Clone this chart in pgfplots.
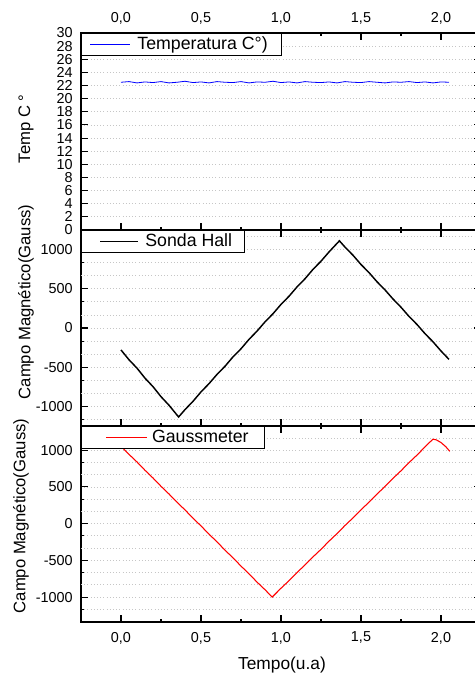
\documentclass[border=0pt]{standalone}
\usepackage{fontspec}
\setmainfont{Liberation Sans}
\usepackage{pgfplots}
\pgfplotsset{compat=1.18}

% 1px of the reference = 0.75pt
\pgfplotsset{
  panel/.style={
    scale only axis, width=300pt, anchor=north west,
    xmin=-0.25, xmax=2.25,
    xtick={0,0.5,1,1.5,2}, minor x tick num=1,
    tick align=inside, major tick length=5pt, minor tick length=2.5pt,
    axis line style={line width=1pt},
    every tick/.style={black, line width=0.8pt},
    ticklabel style={font=\fontsize{10.8}{12}\selectfont},
    /pgf/number format/assume math mode=true,
    /pgf/number format/1000 sep={},
    xticklabel style={/pgf/number format/use comma, /pgf/number format/fixed,
      /pgf/number format/fixed zerofill, /pgf/number format/precision=1,
      /pgf/number format/1000 sep={}},
    yticklabel style={xshift=-2.7pt},
    label style={font=\fontsize{12.5}{14}\selectfont},
    grid style={gray!45, dotted, line width=0.6pt},
    legend style={at={(0,1)}, anchor=north west, draw=black, line width=0.6pt,
      fill=white, font=\fontsize{13.3}{15}\selectfont,
      inner xsep=0pt, inner ysep=2.8pt, nodes={inner sep=0pt}},
    legend cell align=left,
  },
  gauss/.style={
    ytick={-1000,-500,0,500,1000},
    minor ytick={-1166.67,-666.67,-166.67,333.33,833.33},
    extra y ticks={-833.33,-333.33,166.67,666.67,1166.67},
    extra y tick labels={},
    extra y tick style={major tick length=0pt, grid=major},
    ymajorgrids, yminorgrids,
  }
}

\begin{document}
\begin{tikzpicture}
\path[use as bounding box] (0,0) rectangle (356.25pt,-507pt);
\clip (0,0) rectangle (356.25pt,-507pt);

% top panel: temperature
\begin{axis}[panel, at={(60.75pt,-24.75pt)}, height=147.75pt,
  ymin=0, ymax=30, ytick={0,2,...,30}, ymajorgrids,
  xticklabel pos=upper,
  xticklabel style={yshift=3pt},
  ylabel={Temp C °},
  ylabel style={at={(axis description cs:-0.1375,0.513)}, anchor=center},
  legend image code/.code={\path[draw=none] (0pt,0pt) -- (42pt,0pt); \draw[#1] (6.75pt,0pt) -- (36.75pt,0pt);},
]
\addplot[blue, line width=0.6pt] coordinates {
(0.00,22.5) (0.05,22.6) (0.10,22.4) (0.15,22.55) (0.20,22.45) (0.25,22.6)
(0.30,22.4) (0.35,22.5) (0.40,22.65) (0.45,22.45) (0.50,22.55) (0.55,22.4)
(0.60,22.6) (0.65,22.5) (0.70,22.45) (0.75,22.6) (0.80,22.4) (0.85,22.55)
(0.90,22.5) (0.95,22.65) (1.00,22.45) (1.05,22.55) (1.10,22.4) (1.15,22.6)
(1.20,22.5) (1.25,22.45) (1.30,22.55) (1.35,22.4) (1.40,22.6) (1.45,22.5)
(1.50,22.45) (1.55,22.6) (1.60,22.5) (1.65,22.4) (1.70,22.55) (1.75,22.5)
(1.80,22.6) (1.85,22.45) (1.90,22.55) (1.95,22.4) (2.00,22.55) (2.05,22.5)
};
\addlegendentry{Temperatura C°)\kern10pt}
\end{axis}

% middle panel: Hall probe
\begin{axis}[panel, gauss, at={(60.75pt,-172.5pt)}, height=147pt,
  ymin=-1250, ymax=1250,
  xticklabels={},
  ylabel={Campo Magnético(Gauss)},
  ylabel style={at={(axis description cs:-0.1375,0.633)}, anchor=center},
  legend image code/.code={\path[draw=none] (0pt,0pt) -- (48pt,0pt); \draw[#1] (14pt,0pt) -- (42.5pt,0pt);},
]
\addplot[black, line width=1.1pt] coordinates {
(0.00,-280) (0.05,-405) (0.10,-512) (0.15,-640) (0.20,-748) (0.25,-876)
(0.30,-985) (0.36,-1135) (0.40,-1041) (0.45,-935) (0.50,-815) (0.55,-710)
(0.60,-592) (0.65,-488) (0.70,-368) (0.75,-265) (0.80,-145) (0.85,-40)
(0.90,78) (0.95,182) (1.00,301) (1.05,405) (1.10,524) (1.15,628)
(1.20,748) (1.25,852) (1.30,970) (1.365,1112) (1.40,1032) (1.45,928)
(1.50,810) (1.55,707) (1.60,590) (1.65,486) (1.70,370) (1.75,265)
(1.80,148) (1.85,45) (1.90,-72) (1.95,-176) (2.00,-293) (2.05,-400)
};
\addlegendentry{Sonda Hall\kern9pt}
\end{axis}

% bottom panel: gaussmeter
\begin{axis}[panel, gauss, at={(60.75pt,-319.5pt)}, height=147pt,
  ymin=-1340, ymax=1330,
  xticklabel style={yshift=-4pt},
  xlabel={Tempo(u.a)},
  xlabel style={at={(axis description cs:0.5025,-0.219)}, anchor=center, font=\fontsize{13}{15}\selectfont},
  ylabel={Campo Magnético(Gauss)},
  ylabel style={at={(axis description cs:-0.15,0.541)}, anchor=center},
  legend image code/.code={\path[draw=none] (0pt,0pt) -- (53pt,0pt); \draw[#1] (18.75pt,0pt) -- (49.5pt,0pt);},
]
\addplot[red, line width=0.8pt] coordinates {
(0.00,1055) (0.05,944) (0.10,840) (0.15,727) (0.20,622) (0.25,509)
(0.30,404) (0.35,292) (0.40,187) (0.45,74) (0.50,-31) (0.55,-143)
(0.60,-248) (0.65,-361) (0.70,-466) (0.75,-578) (0.80,-683) (0.85,-796)
(0.90,-900) (0.945,-1000) (1.00,-880) (1.05,-777) (1.10,-666) (1.15,-563)
(1.20,-453) (1.25,-350) (1.30,-239) (1.35,-136) (1.40,-25) (1.45,78)
(1.50,189) (1.55,292) (1.60,403) (1.65,506) (1.70,617) (1.75,720)
(1.80,831) (1.85,934) (1.90,1045) (1.93,1110) (1.95,1150) (1.97,1142)
(2.00,1105) (2.03,1048) (2.055,985)
};
\addlegendentry{Gaussmeter\kern12pt}
\end{axis}
\end{tikzpicture}
\end{document}
